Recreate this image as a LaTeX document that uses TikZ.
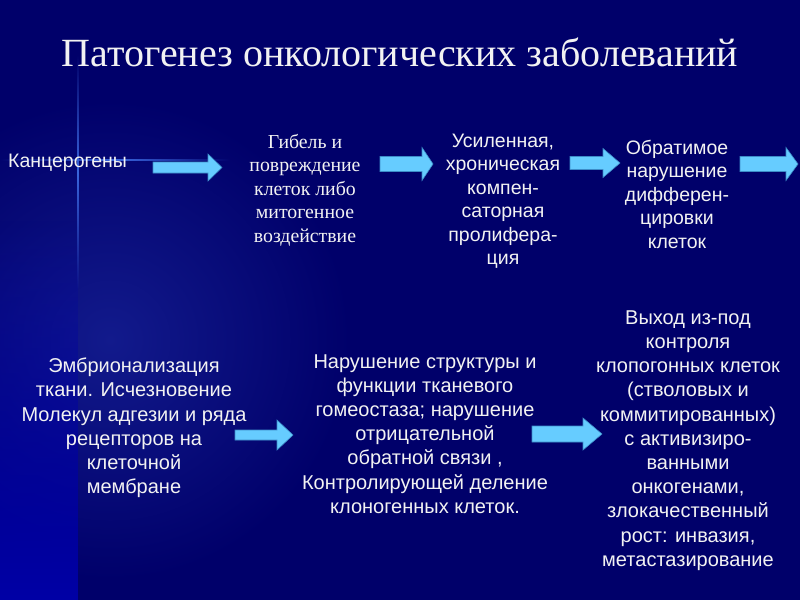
\documentclass[tikz,border=0pt]{standalone}
\usepackage{fontspec}
\setmainfont{Liberation Serif}
\newfontfamily\arialf{Liberation Sans}
\usetikzlibrary{fadings}
\tikzfading[name=vmid, top color=transparent!100, bottom color=transparent!100, middle color=transparent!0]
\tikzfading[name=hmid, left color=transparent!100, right color=transparent!100, middle color=transparent!0]
\definecolor{bgnavy}{HTML}{00006A}
\definecolor{bandblue}{HTML}{0000A6}
\definecolor{softglow}{HTML}{121A8C}
\definecolor{glow}{HTML}{3A66DD}
\definecolor{arrowfill}{HTML}{66CCFF}
\definecolor{arrowline}{HTML}{3C8CC8}
\definecolor{txt}{HTML}{F2F2F2}
\newcommand\barrow[6]{%
  \draw[arrowstyle] (#1,#3-#4) -- (#2-#6,#3-#4) -- (#2-#6,#3-#5) -- (#2,#3)
    -- (#2-#6,#3+#5) -- (#2-#6,#3+#4) -- (#1,#3+#4) -- cycle;}
\tikzset{
  arrowstyle/.style={fill=arrowfill, draw=arrowline, line width=0.6pt, line join=miter},
  sanstext/.style={text=txt, align=center, inner sep=0pt, font=\arialf\fontsize{19.5}{23.5}\selectfont},
  sanstextb/.style={text=txt, align=center, inner sep=0pt, font=\arialf\fontsize{20}{24.2}\selectfont},
  seriftext/.style={text=txt, align=center, inner sep=0pt, font=\fontsize{19.8}{23.5}\selectfont},
}
\begin{document}
\begin{tikzpicture}[x=1pt, y=-1pt]
\useasboundingbox (0,0) rectangle (800,600);
% background
\fill[bgnavy] (0,0) rectangle (800,600);
\begin{scope}
\clip (0,0) rectangle (800,600);
\shade[inner color=softglow, outer color=bgnavy] (110,340) circle (240);
\end{scope}
\fill[bandblue, path fading=north] (0,220) rectangle (78,600);
\fill[glow, path fading=hmid] (0,159) rectangle (230,160.6);
\fill[glow, path fading=vmid] (77.3,55) rectangle (78.9,290);
% title
\node[text=txt, inner sep=0pt, font=\fontsize{40}{48}\selectfont] (title) at (400,52) {Патогенез онкологических заболеваний};
% top row
\node[sanstext, anchor=west] (k) at (8,163) {Канцерогены};
\node[seriftext] (g) at (305,190) {Гибель и\\повреждение\\клеток либо\\митогенное\\воздействие};
\node[sanstext] (u) at (503,201) {Усиленная,\\хроническая\\компен-\\саторная\\пролифера-\\ция};
\node[sanstext] (o) at (677,194) {Обратимое\\нарушение\\дифферен-\\цировки\\клеток};
% bottom row
\node[sanstextb] (e) at (134,428) {Эмбрионализация\\ткани. Исчезновение\\Молекул адгезии и ряда\\рецепторов на\\клеточной\\мембране};
\node[sanstextb] (n) at (425,434) {Нарушение структуры и\\функции тканевого\\гомеостаза; нарушение\\отрицательной\\обратной связи ,\\Контролирующей деление\\клоногенных клеток.};
\node[sanstextb] (v) at (688,440.5) {Выход из-под\\контроля\\клопогонных клеток\\(стволовых и\\коммитированных)\\с активизиро-\\ванными\\онкогенами,\\злокачественный\\рост: инвазия,\\метастазирование};
% block arrows
\barrow{153}{222}{167.5}{5.5}{13.5}{14}
\barrow{380}{433}{164}{7.5}{16.5}{11}
\barrow{570}{620}{163}{6.5}{14.5}{17}
\barrow{740}{798}{164}{7.5}{16.5}{12}
\barrow{235}{293}{435}{5}{15}{16}
\barrow{532}{602}{434}{8}{16}{19}
\end{tikzpicture}
\end{document}
